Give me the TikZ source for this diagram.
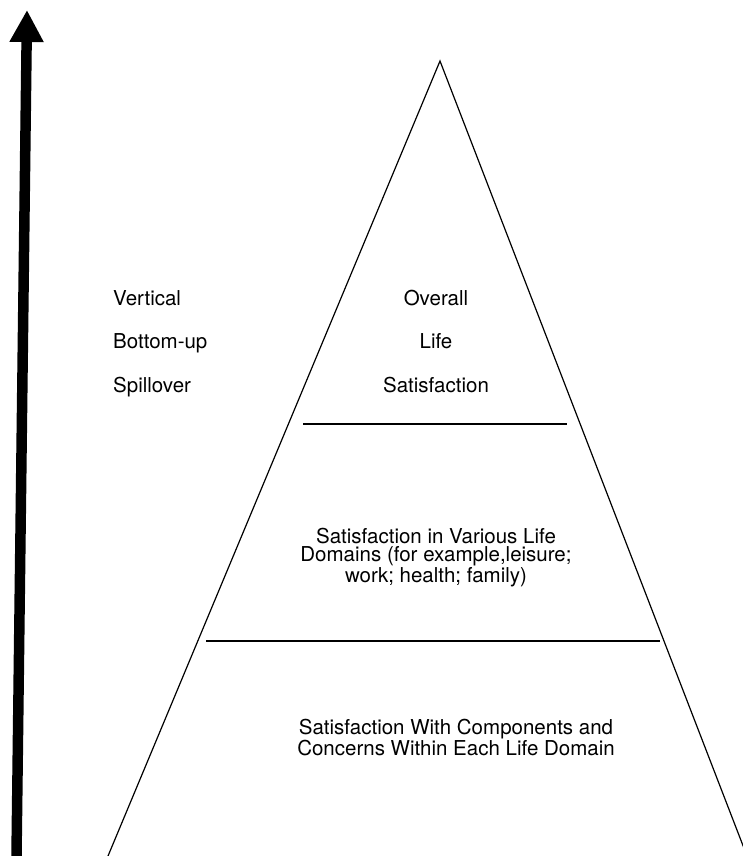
\documentclass[tikz,border=0pt]{standalone}
\usepackage{fontspec}
\setmainfont{TeX Gyre Heros}
\usetikzlibrary{arrows.meta}
\begin{document}
\begin{tikzpicture}[x=1pt,y=-1pt,
    side/.style={line width=1.2pt},
    txt/.style={font=\fontsize{20.5}{18.5}\selectfont, inner sep=0pt, anchor=base, align=center}]
  \useasboundingbox (0,0) rectangle (742,856);
  % the upward arrow
  \coordinate (foot) at (16.5,856);
  \coordinate (tip) at (27,10);
  \draw[line width=10.5pt, -{Triangle[length=32pt,width=32pt]}] (foot) -- (tip);
  % the pyramid
  \coordinate (apex) at (440,61);
  \coordinate (bl) at (108,856);
  \coordinate (br) at (747,856);
  \draw[side] (bl) -- (apex) -- (br);
  \draw[side] (303,424) -- (567,424);
  \draw[side] (206,641) -- (660,641);
  % texts
  \node[txt, anchor=base west] (vert) at (113,305) {Vertical};
  \node[txt, anchor=base west] (bup) at (113,348) {Bottom-up};
  \node[txt, anchor=base west] (spill) at (113,392) {Spillover};
  \node[txt] (overall) at (436,305) {Overall};
  \node[txt] (life) at (436,348) {Life};
  \node[txt] (sat) at (436,392) {Satisfaction};
  \node[txt] (domains) at (436,582) {Satisfaction in Various Life\\Domains (for example,leisure;\\work; health; family)};
  \node[txt] (comp) at (456,755) {Satisfaction With Components and\\Concerns Within Each Life Domain};
\end{tikzpicture}
\end{document}
